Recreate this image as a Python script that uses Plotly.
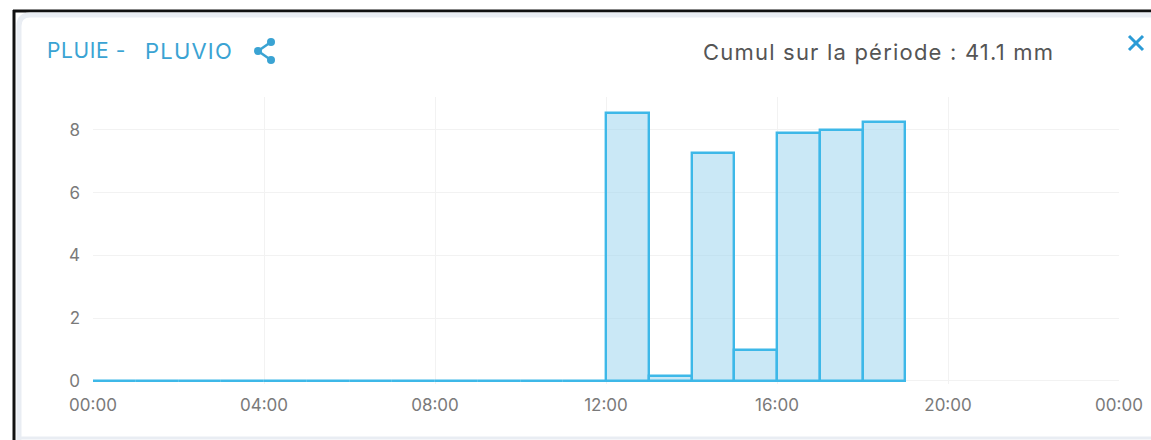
import plotly.graph_objects as go

# Hourly rainfall (mm) for the day, one value per hour starting at 00:00
day = "2023-06-01"
hours = ["00:00", "01:00", "02:00", "03:00", "04:00", "05:00", "06:00",
         "07:00", "08:00", "09:00", "10:00", "11:00", "12:00", "13:00",
         "14:00", "15:00", "16:00", "17:00", "18:00"]
rain_mm = [0, 0, 0, 0, 0, 0, 0, 0, 0, 0, 0, 0,
           8.55, 0.15, 7.25, 1.0, 7.9, 8.0, 8.25]
total_mm = 41.1

tick_times = ["2023-06-01 00:00", "2023-06-01 04:00", "2023-06-01 08:00",
              "2023-06-01 12:00", "2023-06-01 16:00", "2023-06-01 20:00",
              "2023-06-02 00:00"]
tick_labels = ["00:00", "04:00", "08:00", "12:00", "16:00", "20:00", "00:00"]
y_ticks = [0, 2, 4, 6, 8]

W, H = 1151, 440
ML, MR, MT, MB = 93, 32, 97, 56
PW, PH = W - ML - MR, H - MT - MB


def px(x):
    return (x - ML) / PW


def py(y):
    return (H - MB - y) / PH


FONT = "Inter, Lato, sans-serif"
BLUE = "#3aa3d3"

fig = go.Figure()
fig.add_trace(go.Bar(
    x=[f"{day} {h}" for h in hours],
    y=rain_mm,
    width=3600000,
    offset=0,
    marker=dict(color="rgba(150,210,238,0.5)",
                line=dict(color="#3db8e8", width=2.4)),
    hoverinfo="skip",
))

shapes = [
    # outer frame
    dict(type="line", xref="paper", yref="paper", x0=px(13), x1=px(W + 5),
         y0=py(11), y1=py(11), line=dict(color="#111", width=3)),
    dict(type="line", xref="paper", yref="paper", x0=px(14), x1=px(14),
         y0=py(10), y1=py(H + 5), line=dict(color="#111", width=3)),
    # card edge
    dict(type="path", xref="paper", yref="paper",
         path=f"M {px(19)},{py(H + 5)} L {px(19)},{py(26)} "
              f"Q {px(19)},{py(15)} {px(30)},{py(15)} L {px(W + 5)},{py(15)}",
         line=dict(color="#e9edf3", width=5)),
    dict(type="line", xref="paper", yref="paper", x0=px(17), x1=px(W + 5),
         y0=py(438), y1=py(438), line=dict(color="#e9edf3", width=3)),
    # close cross
    dict(type="line", xref="paper", yref="paper", x0=px(1129), x1=px(1143),
         y0=py(36), y1=py(50), line=dict(color="#2b9bd6", width=3)),
    dict(type="line", xref="paper", yref="paper", x0=px(1129), x1=px(1143),
         y0=py(50), y1=py(36), line=dict(color="#2b9bd6", width=3)),
]

# share glyph next to the title
dots = [(271, 42), (258, 51), (271, 60)]
shapes += [
    dict(type="line", xref="paper", yref="paper",
         x0=px(dots[1][0]), y0=py(dots[1][1]), x1=px(dots[0][0]), y1=py(dots[0][1]),
         line=dict(color=BLUE, width=2.5)),
    dict(type="line", xref="paper", yref="paper",
         x0=px(dots[1][0]), y0=py(dots[1][1]), x1=px(dots[2][0]), y1=py(dots[2][1]),
         line=dict(color=BLUE, width=2.5)),
]
for cx, cy in dots:
    shapes.append(dict(type="circle", xref="paper", yref="paper",
                       x0=px(cx - 4), x1=px(cx + 4), y0=py(cy - 4), y1=py(cy + 4),
                       fillcolor=BLUE, line=dict(width=0)))


def spaced(text, ls):
    return f'<span style="letter-spacing:{ls}px">{text}</span>'


annotations = [
    dict(text=spaced("PLUIE -", 0.6), xref="paper", yref="paper", x=px(45), y=py(51),
         xanchor="left", yanchor="middle", showarrow=False,
         font=dict(family=FONT, size=21, color=BLUE)),
    dict(text=spaced("PLUVIO", 1.2), xref="paper", yref="paper", x=px(143), y=py(51),
         xanchor="left", yanchor="middle", showarrow=False,
         font=dict(family=FONT, size=22, color=BLUE)),
    dict(text=spaced(f"Cumul sur la période : {total_mm} mm", 1.2),
         xref="paper", yref="paper",
         x=px(878), y=py(52), xanchor="center", yanchor="middle", showarrow=False,
         font=dict(family=FONT, size=22, color="#555")),
]

fig.update_layout(
    width=W, height=H,
    margin=dict(l=ML, r=MR, t=MT, b=MB, autoexpand=False),
    paper_bgcolor="white", plot_bgcolor="white",
    showlegend=False, bargap=0,
    font=dict(family=FONT, color="#777"),
    shapes=shapes, annotations=annotations,
    xaxis=dict(type="date", range=[tick_times[0], tick_times[-1]],
               tickvals=tick_times, ticktext=tick_labels, automargin=False,
               showgrid=True, gridcolor="#f2f2f2", gridwidth=1,
               zeroline=False, showline=False, ticks="",
               ticklabelstandoff=9, tickfont=dict(size=17, color="#7a7a7a")),
    yaxis=dict(range=[-0.1, 9.05], tickvals=y_ticks, automargin=False,
               showgrid=True, gridcolor="#f2f2f2", gridwidth=1,
               zeroline=False, showline=False, ticks="",
               ticklabelstandoff=12, tickfont=dict(size=17, color="#7a7a7a")),
)

fig.write_html("out.html")
